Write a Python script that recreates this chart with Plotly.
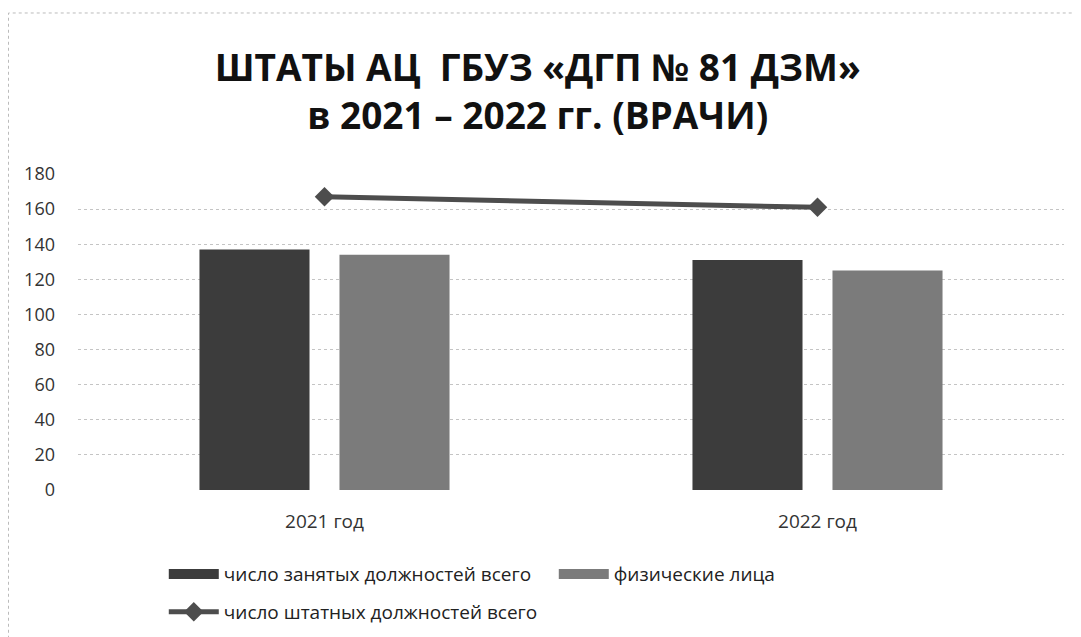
import plotly.graph_objects as go

categories = ["2021 год", "2022 год"]
occupied = [137, 131]
physical = [134, 125]
staff_total = [167, 161]
y_ticks = [0, 20, 40, 60, 80, 100, 120, 140, 160, 180]

name_occ = "число занятых должностей всего"
name_phys = "физические лица"
name_staff = "число штатных должностей всего"
col_occ = "#3c3c3c"
col_phys = "#7b7b7b"
col_line = "#4d4d4d"

fig = go.Figure()
fig.add_trace(go.Bar(x=categories, y=occupied, name=name_occ, showlegend=False,
                     marker=dict(color=col_occ, line=dict(width=0))))
fig.add_trace(go.Bar(x=categories, y=physical, name=name_phys, showlegend=False,
                     marker=dict(color=col_phys, line=dict(width=0))))
fig.add_trace(go.Scatter(x=categories, y=staff_total, name=name_staff,
                         mode="lines+markers", legend="legend2",
                         line=dict(color=col_line, width=5),
                         marker=dict(symbol="diamond", size=15, color=col_line)))
# legend-only swatches for the bar series (wide rectangular keys)
fig.add_trace(go.Scatter(x=[None], y=[None], name=name_occ, mode="lines",
                         line=dict(color=col_occ, width=12), legend="legend"))
fig.add_trace(go.Scatter(x=[None], y=[None], name=name_phys, mode="lines",
                         line=dict(color=col_phys, width=12), legend="legend"))

fig.update_layout(
    width=1081, height=637,
    paper_bgcolor="white", plot_bgcolor="white",
    margin=dict(l=70, r=25, t=166, b=155),
    barmode="group", bargap=0.432, bargroupgap=0.214,
    font=dict(family="Open Sans, DejaVu Sans, sans-serif", color="#222222", size=16),
    title=dict(text="ШТАТЫ АЦ  ГБУЗ «ДГП № 81 ДЗМ»<br>в 2021 – 2022 гг. (ВРАЧИ)",
               font=dict(family="Open Sans, sans-serif", size=37, color="#111111", weight="bold"),
               x=0.49, xanchor="center", y=1 - 72.5/637, yanchor="middle", yref="container"),
    legend=dict(orientation="h", x=0.087, xanchor="left", y=-0.266, yanchor="middle",
                entrywidth=325, itemwidth=50, font=dict(size=19, color="#222222")),
    legend2=dict(orientation="h", x=0.087, xanchor="left", y=-0.386, yanchor="middle",
                 itemwidth=50, font=dict(size=19, color="#222222")),
    showlegend=True,
)
fig.update_yaxes(range=[0, 180], tickvals=y_ticks, showgrid=True, gridcolor="#c4c4c4",
                 griddash="dot", gridwidth=1, zeroline=False, showline=False,
                 tickfont=dict(size=18, color="#333333"), ticks="", ticklabelstandoff=22)
fig.update_xaxes(showgrid=False, showline=False, ticks="",
                 tickfont=dict(size=19, color="#333333"), ticklabelstandoff=18)

fig.add_shape(type="rect", xref="paper", yref="paper", x0=-0.0705, x1=1.2, y0=-0.8, y1=1.5095,
              line=dict(color="#bbbbbb", width=1, dash="dot"), layer="below")

fig.write_html("out.html")
